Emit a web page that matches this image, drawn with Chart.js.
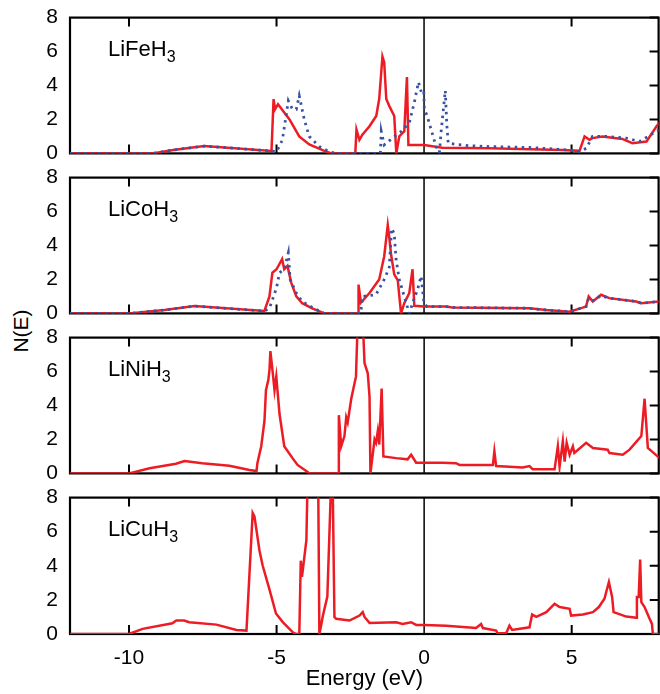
<!DOCTYPE html>
<html>
<head>
<meta charset="utf-8">
<script src="https://cdn.jsdelivr.net/npm/chart.js@4.4.0/dist/chart.umd.min.js"></script>
<style>
  body { margin: 0; background: #fff; }
  #wrap { position: relative; width: 660px; height: 694px; overflow: hidden; font-family: "Liberation Sans", Arial, sans-serif; color: #000; }
  #wrap canvas { position: absolute; left: 0; }
  .compound { position: absolute; left: 108px; font-size: 22px; line-height: 22px; white-space: nowrap; }
  .compound span { font-size: 16px; position: relative; top: 6px; }
  #ylab { position: absolute; left: 20px; top: 331px; font-size: 21px; line-height: 21px; white-space: nowrap;
          transform: translate(-50%, -50%) rotate(-90deg); }
</style>
</head>
<body>
<div id="wrap"><div id="ylab">N(E)</div></div>
<script>
// axes
const energyTicks = [-10, -5, 0, 5];
const dosTicks = [0, 2, 4, 6, 8];
const compounds = ['LiFeH3', 'LiCoH3', 'LiNiH3', 'LiCuH3'];

// [energy (eV), N(E)]
const feSolid = [[-12,0],[-9.2,0],[-8.5,0.2],[-7.45,0.43],[-5.17,0.14],[-5.1,3.2],[-5.05,2.6],[-4.95,2.9],[-4.56,2.0],[-4.23,1.0],
  [-3.89,0.53],[-3.38,0.15],[-3.14,0],[-2.33,0],[-2.29,1.4],[-2.19,0.8],[-2.09,1.1],[-1.85,1.6],[-1.62,2.2],[-1.52,3.2],
  [-1.41,5.7],[-1.35,5.35],[-1.28,3.2],[-1.18,2.8],[-1.01,2.2],[-0.94,0],[-0.84,1.0],[-0.67,1.3],[-0.58,4.5],[-0.53,0.5],
  [0,0.5],[0.62,0.33],[2.21,0.3],[3.57,0.25],[4.69,0.2],[5.27,0.15],[5.44,1.0],[5.61,0.8],[5.71,0.9],[6.04,1.0],
  [6.72,0.85],[7.06,0.6],[7.54,0.7],[7.88,1.6],[7.98,1.8]];
const feDotted = [[-12,0],[-9.2,0],[-8.5,0.2],[-7.45,0.43],[-5.17,0.14],[-5.0,0.1],[-4.8,0.8],[-4.6,3.1],[-4.46,2.6],[-4.33,2.6],
  [-4.23,3.4],[-4.06,2.0],[-3.89,1.0],[-3.55,0.4],[-3.21,0.1],[-3.0,0],[-1.48,0],[-1.45,1.3],[-1.35,0.5],[-1.07,0.9],
  [-0.77,1.3],[-0.5,1.8],[-0.33,3.0],[-0.19,4.2],[-0.09,3.6],[-0.01,3.7],[0.01,2.6],[0.11,2.2],[0.24,1.4],[0.41,0.4],
  [0.52,0.05],[0.58,1.3],[0.72,3.7],[0.77,1.7],[0.82,0.6],[1.03,0.55],[1.54,0.45],[2.21,0.4],[3.57,0.35],[4.93,0.2],
  [5.27,0.1],[5.5,0.3],[5.71,1.0],[6.18,1.0],[6.86,0.9],[7.3,0.7],[7.88,1.3],[7.98,1.4]];

const coSolid = [[-12,0],[-10,0],[-8.8,0.2],[-7.78,0.43],[-5.41,0.14],[-5.24,1.0],[-5.14,2.4],[-5.0,2.6],[-4.81,3.2],[-4.74,2.6],
  [-4.63,2.8],[-4.5,1.8],[-4.33,1.0],[-4.13,0.6],[-3.79,0.3],[-3.38,0],[-2.23,0],[-2.22,1.7],[-2.14,0.63],[-1.85,1.2],
  [-1.52,2.0],[-1.35,3.37],[-1.23,5.2],[-1.18,4.5],[-1.12,3.5],[-1.01,2.3],[-0.89,1.95],[-0.78,0],[-0.67,0.6],[-0.5,1.2],
  [-0.39,2.6],[-0.33,0.45],[0,0.4],[0.75,0.4],[0.96,0.35],[3.57,0.3],[4.14,0.2],[4.93,0.1],[5.49,0.4],[5.58,1.0],
  [5.72,0.7],[6.0,1.1],[6.28,0.9],[7.19,0.7],[7.36,0.6],[7.98,0.7]];
const coDotted = [[-12,0],[-10,0],[-8.8,0.2],[-7.78,0.43],[-5.41,0.14],[-5.24,0.3],[-5.0,1.5],[-4.9,2.4],[-4.74,2.6],[-4.6,3.57],
  [-4.54,2.0],[-4.33,1.2],[-4.13,0.7],[-3.79,0.35],[-3.38,0],[-2.15,0],[-2.08,1.0],[-1.63,1.1],[-1.35,2.0],[-1.18,2.7],
  [-1.1,5.0],[-1.01,4.7],[-0.95,3.2],[-0.84,2.0],[-0.67,1.0],[-0.5,0],[-0.33,0.9],[-0.22,1.4],[-0.1,2.2],[0,0.6],
  [0.1,0.4],[0.75,0.4],[0.96,0.35],[3.57,0.3],[4.14,0.2],[4.93,0.1],[5.49,0.4],[5.58,0.9],[5.72,0.75],[6.0,1.05],
  [6.28,0.9],[7.19,0.7],[7.36,0.6],[7.98,0.7]];

const niSolid = [[-12,0],[-10,0],[-9.3,0.3],[-8.41,0.57],[-8.12,0.73],[-7.52,0.6],[-6.6,0.45],[-5.92,0.2],[-5.68,0.14],[-5.65,0.6],
  [-5.52,1.6],[-5.41,3.1],[-5.36,4.9],[-5.28,5.5],[-5.24,6.1],[-5.21,7.2],[-5.14,6.1],[-5.07,4.9],[-5.01,5.7],[-4.97,4.9],
  [-4.9,3.5],[-4.74,1.6],[-4.46,0.9],[-4.29,0.5],[-3.96,0.1],[-3.89,0],[-2.9,0],[-2.89,3.43],[-2.81,1.6],[-2.7,2.2],
  [-2.64,3.3],[-2.59,3.0],[-2.47,4.4],[-2.36,5.3],[-2.31,5.7],[-2.25,9],[-2.08,9],[-2.02,6.5],[-1.91,5.9],[-1.85,4.5],
  [-1.82,0],[-1.68,2.0],[-1.63,1.8],[-1.57,2.5],[-1.52,1.7],[-1.44,5.0],[-1.38,1.0],[-0.95,0.9],[-0.56,0.83],[-0.44,1.1],
  [-0.27,0.63],[0,0.63],[0.63,0.63],[1.08,0.6],[1.2,0.5],[2.33,0.5],[2.38,1.3],[2.44,0.43],[3.34,0.35],[3.57,0.43],
  [3.68,0.24],[4.42,0.24],[4.53,1.6],[4.59,0.4],[4.7,1.9],[4.76,0.7],[4.83,1.8],[4.93,1.1],[5.04,1.6],[5.09,1.2],
  [5.49,1.8],[5.72,1.5],[6.22,1.4],[6.28,1.2],[6.73,1.1],[6.96,1.4],[7.36,2.2],[7.47,4.4],[7.58,1.5],[7.98,0.9]];

const cuSolid = [[-12,0],[-10,0],[-9.54,0.3],[-8.53,0.63],[-8.4,0.79],[-8.13,0.79],[-7.96,0.69],[-7.04,0.55],[-6.36,0.24],[-6.02,0.2],
  [-5.81,7.1],[-5.75,6.9],[-5.58,4.9],[-5.47,4.0],[-5.24,2.6],[-5.02,1.2],[-4.79,0.7],[-4.45,0.1],[-4.34,0],[-4.23,0],
  [-4.18,4.3],[-4.14,3.35],[-4.06,4.5],[-3.99,5.5],[-3.95,9],[-3.59,9],[-3.55,0],[-3.48,0.6],[-3.44,1.0],[-3.28,2.2],
  [-3.15,9],[-3.1,9],[-3.04,1.0],[-2.98,0.89],[-2.53,0.79],[-2.19,1.08],[-2.08,1.28],[-2.02,1.0],[-1.85,0.65],[-0.95,0.69],
  [-0.73,0.59],[-0.44,0.69],[-0.27,0.53],[0,0.53],[0.75,0.49],[1.76,0.35],[1.93,0.59],[1.99,0.35],[2.44,0.2],[2.49,0.04],
  [2.78,0.04],[2.89,0.49],[2.98,0.24],[3.57,0.39],[3.66,1.14],[3.8,1.0],[4.14,1.28],[4.42,1.77],[4.59,1.58],[4.93,1.48],
  [4.98,1.08],[5.38,1.14],[5.72,1.28],[5.92,1.58],[6.11,2.07],[6.26,3.05],[6.37,2.17],[6.42,1.28],[6.85,1.02],[7.19,0.95],
  [7.21,2.17],[7.27,2.17],[7.32,4.37],[7.36,1.87],[7.47,1.58],[7.64,0.89],[7.72,0.59],[7.75,0],[7.98,0]];

const solidSeries = [feSolid, coSolid, niSolid, cuSolid];
const dottedSeries = [feDotted, coDotted, null, null];

const RED = '#ed1c24';
const BLUE = '#3953a4';
const panelTops = [18, 178, 338, 498];
const PLOT_H = 136;
const PAD = 16;

// frame, inward ticks and the Fermi level line, under the curves
const framePlugin = {
  id: 'frame',
  beforeDatasetsDraw(chart) {
    const { ctx, chartArea: a, scales: { x, y } } = chart;
    ctx.save();
    ctx.strokeStyle = '#000';
    ctx.lineWidth = 1.5;
    const x0 = x.getPixelForValue(0);
    ctx.beginPath();
    ctx.moveTo(x0, a.top);
    ctx.lineTo(x0, a.bottom);
    ctx.stroke();

    ctx.lineWidth = 2;
    ctx.beginPath();
    energyTicks.filter(v => v !== 0).forEach(v => {
      const px = x.getPixelForValue(v);
      ctx.moveTo(px, a.top); ctx.lineTo(px, a.top + 9);
      ctx.moveTo(px, a.bottom); ctx.lineTo(px, a.bottom - 9);
    });
    dosTicks.forEach(v => {
      const py = y.getPixelForValue(v);
      ctx.moveTo(a.right, py); ctx.lineTo(a.right - 9, py);
    });
    ctx.stroke();

    ctx.lineWidth = 2.2;
    ctx.strokeRect(a.left, a.top, a.right - a.left, a.bottom - a.top);
    ctx.restore();
  }
};

const wrap = document.getElementById('wrap');

compounds.forEach((name, i) => {
  const last = i === compounds.length - 1;
  const height = last ? 694 - panelTops[i] + PAD : PLOT_H + 2 * PAD;

  const canvas = document.createElement('canvas');
  canvas.width = 660;
  canvas.height = height;
  canvas.style.top = (panelTops[i] - PAD) + 'px';
  wrap.appendChild(canvas);

  const label = document.createElement('div');
  label.className = 'compound';
  label.style.top = (panelTops[i] + 20) + 'px';
  label.innerHTML = name.slice(0, -1) + '<span>' + name.slice(-1) + '</span>';
  wrap.appendChild(label);

  const datasets = [{
    data: solidSeries[i].map(p => ({ x: p[0], y: p[1] })),
    borderColor: RED,
    borderWidth: 2.5,
    order: 1
  }];
  if (dottedSeries[i]) {
    datasets.push({
      data: dottedSeries[i].map(p => ({ x: p[0], y: p[1] })),
      borderColor: BLUE,
      borderWidth: 2.8,
      borderDash: [2.5, 4.5],
      order: 0
    });
  }

  const chart = new Chart(canvas, {
    type: 'line',
    data: { datasets },
    options: {
      responsive: false,
      maintainAspectRatio: false,
      animation: false,
      devicePixelRatio: 1,
      layout: { padding: { top: PAD, bottom: last ? 0 : PAD, left: 0, right: 1 } },
      elements: { point: { radius: 0 }, line: { tension: 0, fill: false } },
      plugins: { legend: { display: false }, tooltip: { enabled: false } },
      scales: {
        x: {
          type: 'linear',
          min: -12,
          max: 7.95,
          display: last,
          grid: { display: false, drawTicks: false },
          border: { display: false },
          afterBuildTicks: s => { s.ticks = energyTicks.map(v => ({ value: v })); },
          afterFit: s => { s.height = last ? 60 : 0; },
          ticks: {
            color: '#000',
            padding: 12,
            maxRotation: 0,
            font: { family: 'Liberation Sans', size: 21 },
            callback: v => String(v)
          },
          title: {
            display: last,
            text: 'Energy (eV)',
            color: '#000',
            font: { family: 'Liberation Sans', size: 22 },
            padding: { top: 0, bottom: 2 }
          }
        },
        y: {
          min: 0,
          max: 8,
          grid: { display: false, drawTicks: false },
          border: { display: false },
          afterBuildTicks: s => { s.ticks = dosTicks.map(v => ({ value: v })); },
          afterFit: s => { s.width = 70; },
          ticks: {
            color: '#000',
            padding: 12,
            font: { family: 'Liberation Sans', size: 21 },
            callback: v => String(v)
          }
        }
      }
    },
    plugins: [framePlugin]
  });

  // make the plot area exactly PLOT_H tall and line it up with its panel
  const areaH = chart.chartArea.bottom - chart.chartArea.top;
  if (Math.abs(areaH - PLOT_H) > 0.5) {
    chart.resize(660, Math.round(chart.height + PLOT_H - areaH));
  }
  canvas.style.top = (panelTops[i] - chart.chartArea.top) + 'px';
});
</script>
</body>
</html>
